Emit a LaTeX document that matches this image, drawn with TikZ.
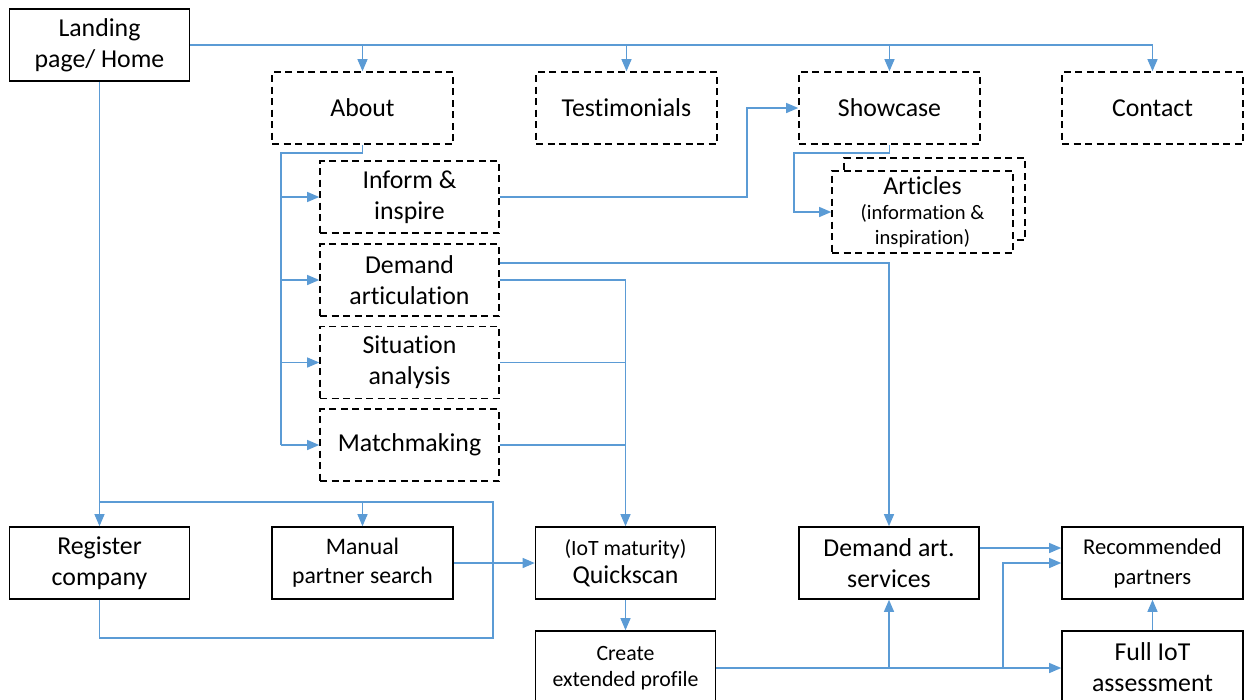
\documentclass[tikz,border=0pt]{standalone}
\usepackage{fontspec}
\setmainfont[Ligatures={NoCommon}]{Carlito}
\usetikzlibrary{arrows.meta}
\newcommand\fsz[2]{\fontsize{#1}{#2}\selectfont}
\definecolor{link}{HTML}{5B9BD5}
\tikzset{
  box/.style={draw=black, line width=1.6pt, fill=white, minimum width=180pt,
    minimum height=72pt, inner sep=0pt, align=center, font=\fsz{25.8}{31}},
  dbox/.style={box, dash pattern=on 7pt off 4.5pt},
  wire/.style={draw=link, line width=1.2pt},
  conn/.style={wire, -{Triangle[length=12pt,width=10pt]}},
}
\begin{document}
\begin{tikzpicture}[x=1pt, y=-1pt]
\useasboundingbox (0,0) rectangle (1245,699);

% top level
\node[box] (home) at (99.5,45) {Landing\\page/ Home};
\node[dbox, minimum width=181pt] (about) at (362.5,108) {About};
\node[dbox, minimum width=181pt] (testi) at (626.5,108) {Testimonials};
\node[dbox, minimum width=181pt] (show) at (889.5,108) {Showcase};
\node[dbox, minimum width=181pt] (contact) at (1152.5,108) {Contact};

% about sub pages
\node[dbox, minimum width=179pt] (inform) at (409.5,197) {Inform \&\\inspire};
\node[dbox, minimum width=179pt] (demand) at (409.5,280) {Demand\\articulation};
\node[dbox, minimum width=179pt] (situ) at (409.5,362.5) {Situation\\analysis};
\node[dbox, minimum width=179pt] (match) at (409.5,445) {Matchmaking};

% articles stack
\node[dbox, minimum width=181pt, minimum height=82pt] (artback) at (934.5,199) {};
\node[dbox, minimum width=181pt, minimum height=82pt, font=\fsz{20.6}{25}] (articles) at (922.5,212)
  {{\fsz{25.8}{25}Articles}\\(information \&\\inspiration)};

% bottom row
\node[box] (register) at (99.5,563) {Register\\company};
\node[box, minimum width=181pt, font=\fsz{23.7}{29}] (manual) at (362.5,563) {Manual\\partner search};
\node[box, font=\fsz{21.8}{28}] (quick) at (625.5,563) {(IoT maturity)\\{\fsz{25.8}{28}Quickscan}};
\node[box, minimum height=74pt, font=\fsz{21.8}{26}] (create) at (625.5,668) {Create\\extended profile};
\node[box] (dart) at (889,563) {Demand art.\\services};
\node[box, minimum width=181pt, font=\fsz{22.6}{30}] (rec) at (1152.5,563) {Recommended\\partners};
\node[box, minimum width=181pt] (full) at (1152.5,667) {Full IoT\\assessment};

% routing points
\coordinate (spine) at (281,153);
\coordinate (jogA) at (747,0);
\coordinate (jogB) at (794,153);
\coordinate (loopT) at (493,502);
\coordinate (loopB) at (493,638);
\coordinate (jogC) at (1003,0);

% from the home page
\draw[wire] (home.east) -- (home.east -| contact.north);
\draw[conn] (home.east -| about.north) -- (about.north);
\draw[conn] (home.east -| testi.north) -- (testi.north);
\draw[conn] (home.east -| show.north) -- (show.north);
\draw[conn] (home.east -| contact.north) -- (contact.north);
\draw[conn] (home.south) -- (register.north);

% register / manual search loop
\draw[wire] (register.south) |- (loopB) -- (loopT) -- (register.north |- loopT);
\draw[conn] (manual.north |- loopT) -- (manual.north);
\draw[conn] (manual.east) -- (quick.west);

% about branches
\draw[wire] (about.south) |- (spine) -- (spine |- match.west);
\draw[conn] (spine |- inform.west) -- (inform.west);
\draw[conn] (spine |- demand.west) -- (demand.west);
\draw[conn] (spine |- situ.west) -- (situ.west);
\draw[conn] (spine |- match.west) -- (match.west);

% showcase and articles
\draw[conn] (inform.east) -- (inform.east -| jogA) |- (show.west);
\draw[conn] (show.south) |- (jogB) |- (articles.west);

% into the quickscan and services
\draw[conn] ([yshift=17pt]demand.east) -| (dart.north);
\draw[conn] (demand.east) -| (quick.north);
\draw[wire] (situ.east) -- (situ.east -| quick.north);
\draw[wire] (match.east) -- (match.east -| quick.north);
\draw[conn] (quick.south) -- (create.north);

% profile onwards
\draw[conn] (create.east) -- (create.east -| full.west);
\draw[conn] (create.east -| dart.south) -- (dart.south);
\draw[conn] (create.east -| jogC) |- (rec.west);
\draw[conn] ([yshift=15pt]dart.east) -- ([yshift=15pt]rec.west);
\draw[conn] (full.north) -- (rec.south);
\end{tikzpicture}
\end{document}
